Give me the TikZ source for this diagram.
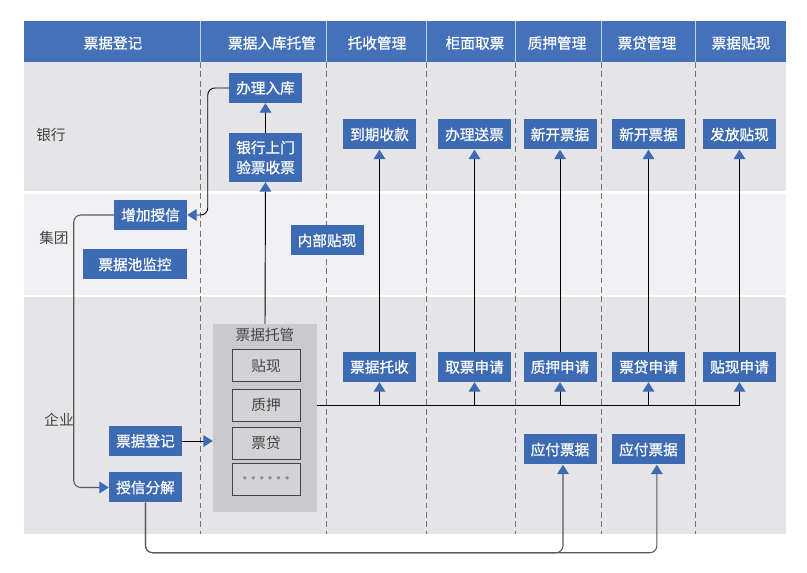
\documentclass[tikz,border=0pt]{standalone}
\usepackage{fontspec}
\setmainfont{Noto Sans CJK SC}
\newfontfamily\boxfont{Noto Sans CJK SC}[FakeBold=0.8]
\newfontfamily\dotfont{DejaVu Sans}
\usetikzlibrary{arrows.meta,positioning}

\definecolor{hdblue}{HTML}{4471B8}
\definecolor{boxblue}{HTML}{3D6BB3}
\definecolor{lanegray}{HTML}{E5E5E7}
\definecolor{grouplane}{HTML}{F1F1F3}
\definecolor{poolgray}{HTML}{CACACC}
\definecolor{itemgray}{HTML}{D3D3D5}
\definecolor{txtgray}{HTML}{444444}

\tikzset{
  flowbox/.style={fill=boxblue, text=white, minimum width=2.19cm, minimum height=0.9cm,
    inner sep=1pt, align=center, font=\boxfont\fontsize{12.5}{17}\selectfont},
  itembox/.style={draw=txtgray, line width=0.6pt, fill=itemgray, text=txtgray,
    minimum width=2.04cm, minimum height=0.96cm, inner sep=1pt, font=\fontsize{12.5}{15}\selectfont},
  lanelabel/.style={text=txtgray, font=\fontsize{12.5}{15}\selectfont},
  flow/.style={line width=0.8pt, -{Triangle[width=10pt,length=8pt,color=boxblue]}},
  grayflow/.style={draw=black!65, line width=0.9pt, rounded corners=6pt,
    -{Triangle[width=10pt,length=8pt,color=boxblue]}},
  bus/.style={line width=0.8pt}
}

\begin{document}
\begin{tikzpicture}[x=0.03cm, y=-0.03cm]
  \useasboundingbox (0,0) rectangle (807,573);

  % Lanes
  \fill[hdblue] (24,21) rectangle (786,62);
  \fill[lanegray] (24,62) rectangle (786,191);
  \fill[grouplane] (24,194) rectangle (786,295);
  \fill[lanegray] (24,297) rectangle (786,534);

  % Column borders
  \foreach \x in {200,326,426,515,601,695} {
    \draw[white!65!hdblue, line width=0.5pt] (\x,21) -- (\x,62);
    \draw[black!55, line width=0.6pt, dash pattern=on 5pt off 3pt] (\x,62) -- (\x,534);
  }

  % Column titles
  \foreach \x/\t in {113/票据登记, 272/票据入库托管, 377/托收管理, 475/柜面取票,
                     557/质押管理, 647/票贷管理, 741/票据贴现}
    \node[text=white, font=\boxfont\fontsize{12.5}{15}\selectfont] at (\x,43) {\t};

  % Lane titles
  \node[lanelabel] (bank) at (51,135) {银行};
  \node[lanelabel] (group) at (54,238) {集团};
  \node[lanelabel] (firm) at (59,420) {企业};

  % Bank lane
  \node[flowbox] (ruku) at (265.5,88) {办理入库};
  \node[flowbox, minimum height=1.47cm] (yanpiao) at (265.5,157.5) {银行上门\\验票收票};
  \node[flowbox] (daoqi) at (379.5,134.5) {到期收款};
  \node[flowbox] (songpiao) at (474.5,134.5) {办理送票};
  \node[flowbox] (xinkaiA) at (560,134.5) {新开票据};
  \node[flowbox] (xinkaiB) at (648.5,134.5) {新开票据};
  \node[flowbox] (fafang) at (739.5,134.5) {发放贴现};

  % Group lane
  \node[flowbox] (shouxin) at (150.5,215) {增加授信};
  \node[flowbox, minimum width=3.12cm] (jiankong) at (135,264.5) {票据池监控};
  \node[flowbox] (neibu) at (327,240.5) {内部贴现};

  % Enterprise lane: bill pool
  \node[fill=poolgray, minimum width=3.12cm, minimum height=5.64cm] (pool) at (265,418) {};
  \node[lanelabel] (pooltitle) at (265,335) {票据托管};
  \node[itembox] (itemA) at (266,365.5) {贴现};
  \node[itembox] (itemB) at (266,405) {质押};
  \node[itembox] (itemC) at (266,443) {票贷};
  \node[itembox, text=black!45, font=\dotfont\fontsize{9.5}{11}\selectfont] (itemD) at (266,479.5)
    {•\,•\,•\,•\,•\,•};

  % Enterprise lane: requests
  \node[flowbox] (tuoshou) at (379.5,367) {票据托收};
  \node[flowbox] (qupiao) at (474.5,367) {取票申请};
  \node[flowbox] (zhiya) at (560,367) {质押申请};
  \node[flowbox] (piaodai) at (648.5,367) {票贷申请};
  \node[flowbox] (tiexian) at (739.5,367) {贴现申请};
  \node[flowbox] (dengji) at (145.5,441) {票据登记};
  \node[flowbox] (fenjie) at (145.5,487.5) {授信分解};
  \node[flowbox] (yingfuA) at (560,449.5) {应付票据};
  \node[flowbox] (yingfuB) at (648.5,449.5) {应付票据};

  % Custody flow
  \draw[flow] (yanpiao.north) -- (ruku.south);
  \draw[flow] (pool.north) -- (yanpiao.south);
  \draw[flow, rounded corners=6pt] (ruku.west) -- ++(-21,0) |- (shouxin.east);
  \draw[grayflow] (shouxin.west) -- ++(-40,0) |- (fenjie.west);
  \draw[flow] (dengji.east) -- (pool.west |- dengji.east);

  % Pool to the requests
  \coordinate (busL) at (pool.east |- itemB.east);
  \draw[bus] (busL) -- (tiexian.south |- busL);
  \foreach \n in {tuoshou,qupiao,zhiya,piaodai,tiexian}
    \draw[flow] (\n.south |- busL) -- (\n.south);

  % Requests to the bank
  \draw[flow] (tuoshou.north) -- (daoqi.south);
  \draw[flow] (qupiao.north) -- (songpiao.south);
  \draw[flow] (zhiya.north) -- (xinkaiA.south);
  \draw[flow] (piaodai.north) -- (xinkaiB.south);
  \draw[flow] (tiexian.north) -- (fafang.south);

  % Credit split to payable bills
  \draw[grayflow] (fenjie.south) -- ++(0,50) -| ([xshift=0.09cm]yingfuA.south);
  \draw[grayflow] (fenjie.south) -- ++(0,50) -| ([xshift=0.25cm]yingfuB.south);
\end{tikzpicture}
\end{document}
